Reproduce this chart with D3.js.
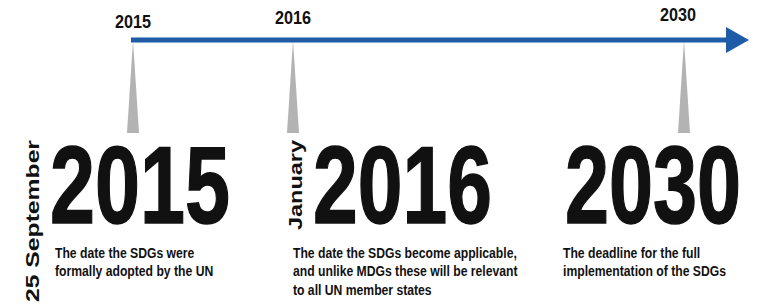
<!DOCTYPE html>
<html>
<head>
<meta charset="utf-8">
<script src="https://cdn.jsdelivr.net/npm/d3@7"></script>
<style>
  body { margin: 0; background: #fff; }
  text { font-family: "Liberation Sans", Arial, sans-serif; font-weight: bold; fill: #111; }
</style>
</head>
<body>
<div id="canvas"></div>
<script>
// timeline data
var years = [2015, 2016, 2030];
var dateLabels = ["25 September", "January", ""];
var descriptions = [
  ["The date the SDGs were", "formally adopted by the UN"],
  ["The date the SDGs become applicable,", "and unlike MDGs these will be relevant", "to all UN member states"],
  ["The deadline for the full", "implementation of the SDGs"]
];

// layout
var W = 762, H = 305;
var lineY = 40;
var tickX = [133, 293, 684];
var labelY = [28, 24, 21];
var labelDx = [0, 0, -6];
var bigX = [50, 313, 565];
var bigW = [180, 179, 176];
var descX = [55, 293, 563];
var rotX = [39, 302];
var rotY = [302, 230];
var rotLen = [162, 90];
var narrow = 0.87; // no narrow font installed, squeeze instead

var svg = d3.select('#canvas').append('svg')
  .attr('width', W)
  .attr('height', H);

// piecewise scale, the timeline is not to scale
var x = d3.scaleLinear().domain(years).range(tickX);

var items = years.map(function (y, i) {
  return { year: y, i: i, date: dateLabels[i], desc: descriptions[i] };
});

// grey pointers
svg.selectAll('path.pointer').data(items)
  .enter().append('path')
  .attr('class', 'pointer')
  .attr('fill', '#b3b3b3')
  .attr('d', function (d) {
    var cx = x(d.year);
    return 'M' + cx + ',' + lineY + 'L' + (cx - 6) + ',133L' + (cx + 6) + ',133Z';
  });

// the arrow
svg.append('line')
  .attr('x1', x(2015) - 2).attr('x2', 728)
  .attr('y1', lineY).attr('y2', lineY)
  .attr('stroke', '#1f5ba6')
  .attr('stroke-width', 5);
svg.append('path')
  .attr('fill', '#1f5ba6')
  .attr('d', 'M726,27L749,40L726,53Z');

// small year labels above the line
svg.selectAll('text.tick').data(items)
  .enter().append('text')
  .attr('class', 'tick')
  .attr('transform', function (d) {
    return 'translate(' + (x(d.year) + labelDx[d.i]) + ',' + labelY[d.i] + ') scale(0.9,1)';
  })
  .attr('text-anchor', 'middle')
  .attr('font-size', 18)
  .text(function (d) { return d.year; });

// big years, squeezed to the condensed look
svg.selectAll('text.big').data(items)
  .enter().append('text')
  .attr('class', 'big')
  .attr('font-size', 110)
  .attr('stroke', '#111')
  .attr('stroke-width', 1.5)
  .text(function (d) { return d.year; })
  .attr('transform', function (d) {
    var k = bigW[d.i] / this.getComputedTextLength();
    return 'translate(' + bigX[d.i] + ',223) scale(' + k + ',1)';
  });

// rotated dates
svg.selectAll('text.rot').data(items.filter(function (d) { return d.date; }))
  .enter().append('text')
  .attr('class', 'rot')
  .attr('transform', function (d) { return 'translate(' + rotX[d.i] + ',' + rotY[d.i] + ') rotate(-90)'; })
  .attr('font-size', 19)
  .attr('textLength', function (d) { return rotLen[d.i]; })
  .attr('lengthAdjust', 'spacingAndGlyphs')
  .text(function (d) { return d.date; });

// descriptions
var desc = svg.selectAll('text.desc').data(items)
  .enter().append('text')
  .attr('class', 'desc')
  .attr('transform', function (d) { return 'translate(' + descX[d.i] + ',0) scale(' + narrow + ',1)'; })
  .attr('font-size', 14);
desc.selectAll('tspan').data(function (d) { return d.desc; })
  .enter().append('tspan')
  .attr('x', 0)
  .attr('y', function (d, j) { return 258 + j * 18.5; })
  .text(function (d) { return d; });
</script>
</body>
</html>
